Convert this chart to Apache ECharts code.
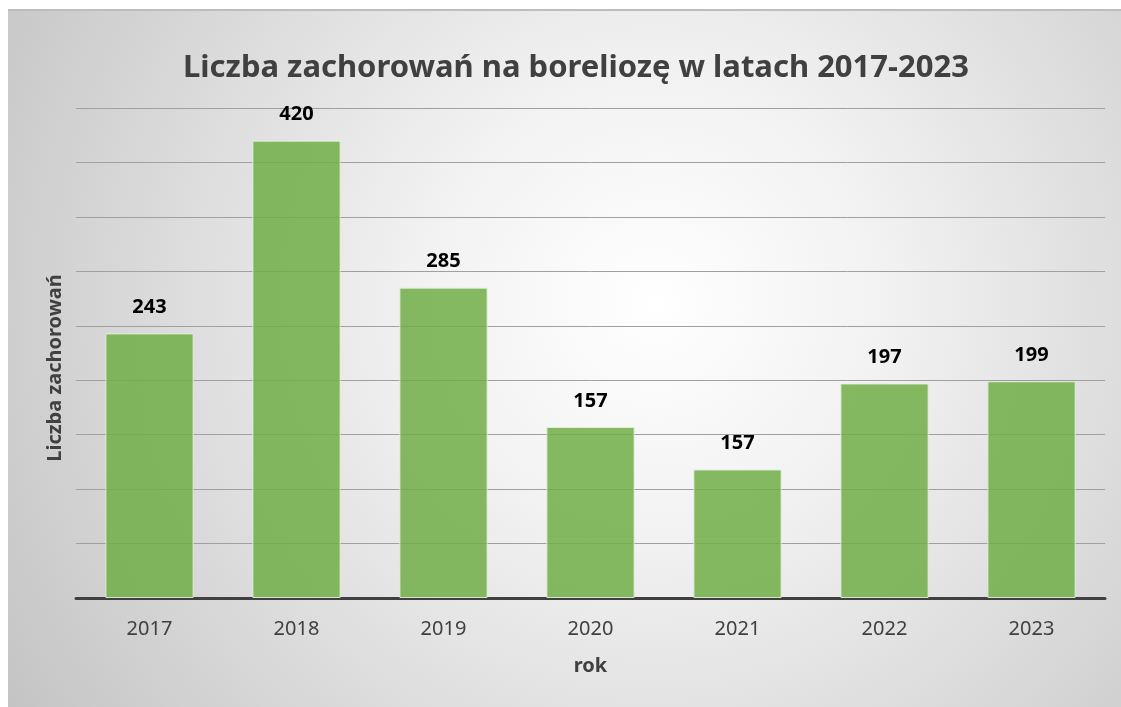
<!DOCTYPE html>
<html>
<head>
<meta charset="utf-8">
<script src="https://cdn.jsdelivr.net/npm/echarts@6/dist/echarts.min.js"></script>
<style>
  html, body { margin: 0; padding: 0; background: #ffffff; }
  #chart {
    position: absolute;
    left: 8px;
    top: 9px;
    width: 1113px;
    height: 696px;
    border-top: 2px solid #bdbdbd;
    background: radial-gradient(circle farthest-corner at 58% 42%, #ffffff 0%, #f2f2f2 30%, #c4c4c4 100%);
  }
</style>
</head>
<body>
<div id="chart"></div>
<script>
// lata
const years = ['2017', '2018', '2019', '2020', '2021', '2022', '2023']
// wysokości słupków odczytane ze skali
const cases = [243, 420, 285, 157, 118, 197, 199]
// etykiety nad słupkami (tak jak na oryginale)
const caseLabels = ['243', '420', '285', '157', '157', '197', '199']

const fontFamily = '"Noto Sans", "Open Sans", sans-serif'
const mChart = echarts.init(document.getElementById('chart'), null, { renderer: 'canvas' })

const option = {
  backgroundColor: 'transparent',
  title: {
    text: 'Liczba zachorowań na boreliozę w latach 2017-2023',
    left: 170,
    top: 37,
    textStyle: {
      fontFamily,
      fontSize: 31,
      fontWeight: 'bold',
      color: '#404040'
    }
  },
  grid: {
    left: 68,
    right: 16,
    top: 97,
    bottom: 109,
    containLabel: false
  },
  xAxis: {
    type: 'category',
    data: years,
    name: 'rok',
    nameLocation: 'middle',
    nameGap: 58,
    nameTextStyle: {
      fontFamily,
      fontSize: 20,
      fontWeight: 'bold',
      color: '#404040'
    },
    axisLine: { lineStyle: { color: '#404040', width: 3 } },
    axisTick: { show: false },
    axisLabel: {
      margin: 21,
      fontFamily,
      fontSize: 20,
      color: '#404040'
    }
  },
  yAxis: {
    type: 'value',
    min: 0,
    max: 450,
    interval: 50,
    name: 'Liczba zachorowań',
    nameLocation: 'middle',
    nameGap: 11,
    nameTextStyle: {
      fontFamily,
      fontSize: 20,
      fontWeight: 'bold',
      color: '#404040',
      // przesunięcie nazwy osi w dół
      padding: [0, 30, 0, 0]
    },
    axisLine: { show: false },
    axisTick: { show: false },
    axisLabel: { show: false },
    splitLine: { lineStyle: { color: '#a0a0a0', width: 1 } }
  },
  series: [
    {
      type: 'bar',
      data: cases,
      barWidth: '60%',
      itemStyle: {
        color: 'rgba(112, 173, 71, 0.85)',
        borderColor: 'rgba(226, 240, 217, 0.9)',
        borderWidth: 1
      },
      label: {
        show: true,
        position: 'top',
        distance: 16,
        formatter: (p) => caseLabels[p.dataIndex],
        fontFamily,
        fontSize: 20,
        fontWeight: 'bold',
        color: '#000000'
      },
      emphasis: { disabled: true }
    }
  ]
}
mChart.setOption(option)
</script>
</body>
</html>
